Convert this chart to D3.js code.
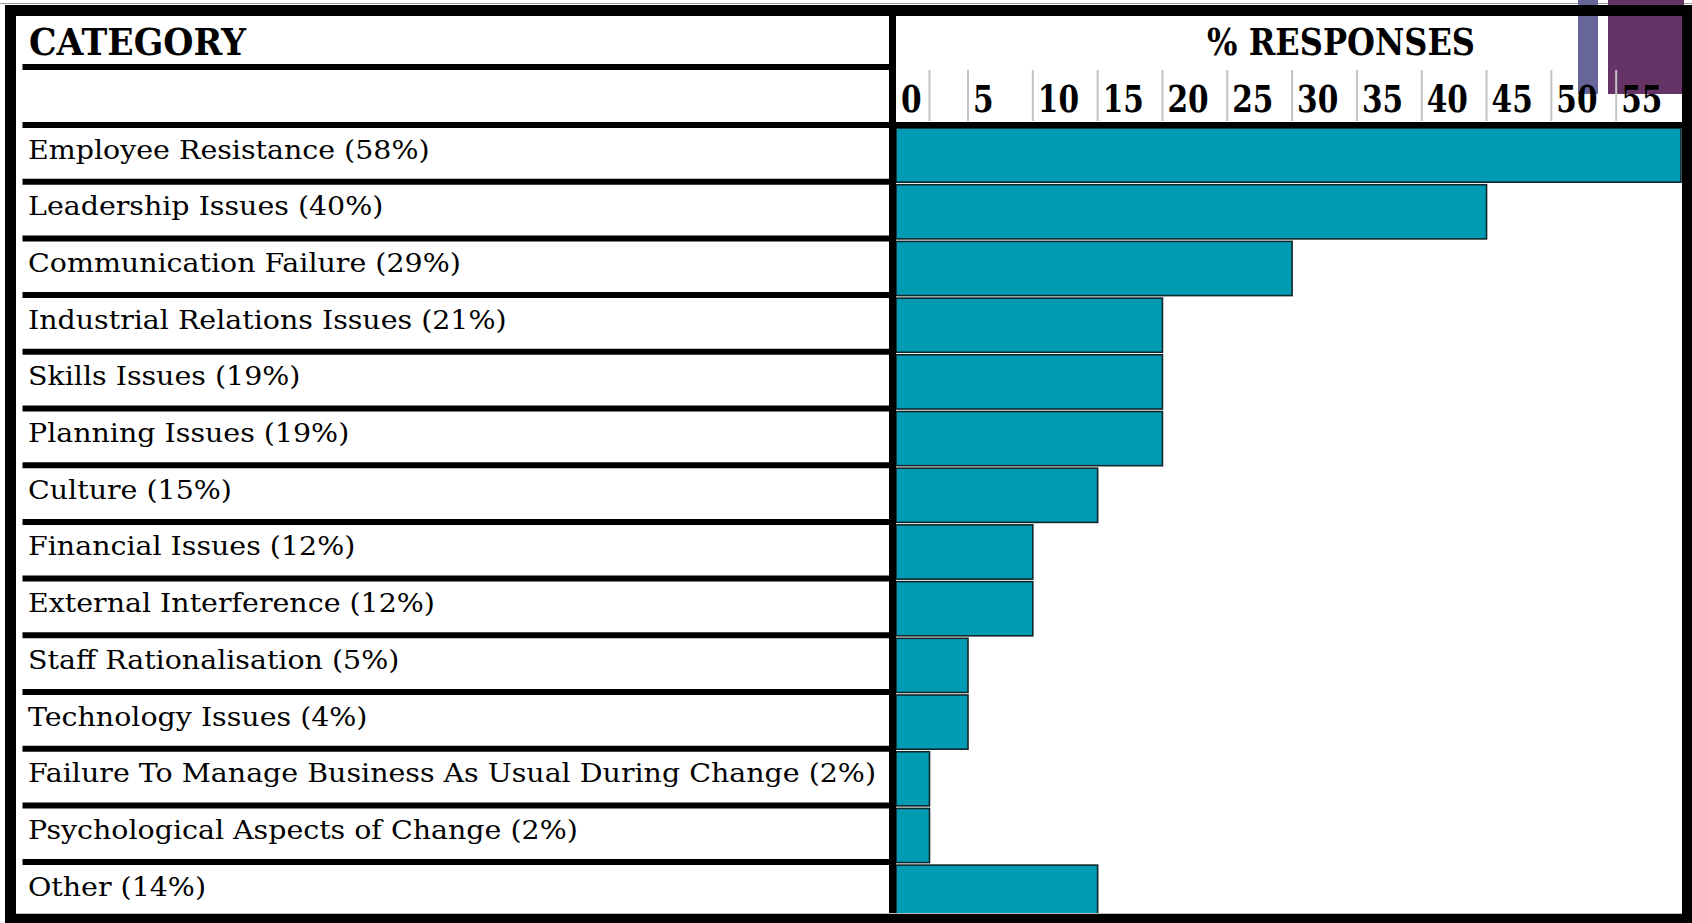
<!DOCTYPE html>
<html>
<head>
<meta charset="utf-8">
<script src="https://cdn.jsdelivr.net/npm/d3@7/dist/d3.min.js"></script>
<style>
  html, body { margin: 0; padding: 0; background: #ffffff; }
  svg { display: block; }
</style>
</head>
<body>
<svg id="chart" width="1692" height="923"></svg>
<script>
// ---------------- data ----------------
const categories = [
  "Employee Resistance",
  "Leadership Issues",
  "Communication Failure",
  "Industrial Relations Issues",
  "Skills Issues",
  "Planning Issues",
  "Culture",
  "Financial Issues",
  "External Interference",
  "Staff Rationalisation",
  "Technology Issues",
  "Failure To Manage Business As Usual During Change",
  "Psychological Aspects of Change",
  "Other"
];
// percentages printed in the category labels
const percentages = [58, 40, 29, 21, 19, 19, 15, 12, 12, 5, 4, 2, 2, 14];
// bar lengths as drawn on the % RESPONSES axis
const barValues = [60, 45, 30, 20, 20, 20, 15, 10, 10, 5, 5, 2.5, 2.5, 15];
// axis labels and grid separators
const tickValues = [0, 5, 10, 15, 20, 25, 30, 35, 40, 45, 50, 55];
const gridValues = [2.5, 5, 10, 15, 20, 25, 30, 35, 40, 45, 50, 55];
const headerLeft = "CATEGORY";
const headerRight = "% RESPONSES";

// ---------------- layout ----------------
const W = 1692, H = 923;
const svg = d3.select("#chart");
const serif = "'DejaVu Serif', 'Liberation Serif', serif";

const frameOuter = 5, frameW = 11;
const dividerX = 892.5, dividerW = 7;
const plotLeft = 896, plotRight = 1681;
const firstLineY = 125, rowH = 56.7;
const lineW = 6;
const leftLineX0 = 22.5;

// polylinear scale matching the reference's cell grid
const x = d3.scaleLinear()
  .domain([0, 2.5, 5, 60])
  .range([plotLeft, 929.5, 968, plotRight]);

const y = d3.scaleBand()
  .domain(d3.range(categories.length))
  .range([firstLineY, firstLineY + rowH * categories.length])
  .padding(0);

// background
svg.append("rect").attr("width", W).attr("height", H).attr("fill", "#ffffff");
svg.append("line").attr("x1", 0).attr("x2", W).attr("y1", 3.5).attr("y2", 3.5)
  .attr("stroke", "#9a9a9a").attr("stroke-width", 1);

// decorative theme blocks (top right)
svg.append("rect").attr("x", 1578).attr("y", 0).attr("width", 20).attr("height", 94).attr("fill", "#666699");
svg.append("rect").attr("x", 1608).attr("y", 0).attr("width", 76).attr("height", 94).attr("fill", "#663366");

// bars
svg.append("g").selectAll("rect")
  .data(barValues)
  .join("rect")
  .attr("x", x(0))
  .attr("y", (d, i) => y(i) + 3)
  .attr("width", d => x(d) - x(0))
  .attr("height", y.bandwidth() - 2.5)
  .attr("fill", "#019bb3")
  .attr("stroke", "#10262a")
  .attr("stroke-width", 1.6);

// grid separators in the tick row
svg.append("g").selectAll("line")
  .data(gridValues)
  .join("line")
  .attr("x1", d => x(d)).attr("x2", d => x(d))
  .attr("y1", 70).attr("y2", 121)
  .attr("stroke", "#c4c4c4")
  .attr("stroke-width", 2);

// tick labels (slightly condensed to mimic the slab face)
const tickText = svg.append("g").selectAll("text")
  .data(tickValues)
  .join("text")
  .attr("x", d => x(d) + 5)
  .attr("y", 112)
  .attr("font-family", serif)
  .attr("font-weight", "bold")
  .attr("font-size", 37)
  .attr("fill", "#000")
  .text(d => d);
tickText.each(function () {
  const w = this.getComputedTextLength();
  d3.select(this).attr("textLength", w * 0.8).attr("lengthAdjust", "spacingAndGlyphs");
});

// headers
svg.append("text")
  .attr("x", 29).attr("y", 55)
  .attr("font-family", serif).attr("font-weight", "bold").attr("font-size", 37)
  .attr("textLength", 217).attr("lengthAdjust", "spacingAndGlyphs")
  .text(headerLeft);
svg.append("text")
  .attr("x", 1207).attr("y", 55)
  .attr("font-family", serif).attr("font-weight", "bold").attr("font-size", 37)
  .attr("textLength", 268).attr("lengthAdjust", "spacingAndGlyphs")
  .text(headerRight);

// category labels
const labels = categories.map((c, i) => `${c} (${percentages[i]}%)`);
const labelText = svg.append("g").selectAll("text")
  .data(labels)
  .join("text")
  .attr("x", 28)
  .attr("y", (d, i) => y(i) + 33.5)
  .attr("font-family", serif)
  .attr("font-size", 26)
  .attr("fill", "#000")
  .text(d => d);
// condense all labels by a common factor so the longest fits its reference width
const longest = d3.max(labelText.nodes(), n => n.getComputedTextLength());
const squeeze = 848 / longest;
labelText.each(function () {
  const w = this.getComputedTextLength();
  d3.select(this).attr("textLength", w * squeeze).attr("lengthAdjust", "spacingAndGlyphs");
});

// left-column row lines
svg.append("g").selectAll("line")
  .data(d3.range(categories.length).slice(1))
  .join("line")
  .attr("x1", leftLineX0).attr("x2", dividerX)
  .attr("y1", i => y(i)).attr("y2", i => y(i))
  .attr("stroke", "#000").attr("stroke-width", lineW);
// header lines
svg.append("line").attr("x1", leftLineX0).attr("x2", dividerX).attr("y1", 67).attr("y2", 67)
  .attr("stroke", "#000").attr("stroke-width", lineW);
svg.append("line").attr("x1", leftLineX0).attr("x2", plotRight + 3).attr("y1", firstLineY).attr("y2", firstLineY)
  .attr("stroke", "#000").attr("stroke-width", lineW);

// vertical divider
svg.append("line").attr("x1", dividerX).attr("x2", dividerX).attr("y1", 10).attr("y2", 918)
  .attr("stroke", "#000").attr("stroke-width", dividerW);

// faint inner bottom line
svg.append("line").attr("x1", 16).attr("x2", 1683).attr("y1", 913.5).attr("y2", 913.5)
  .attr("stroke", "#bdbdbd").attr("stroke-width", 1);

// outer frame
svg.append("rect")
  .attr("x", frameOuter + frameW / 2).attr("y", frameOuter + frameW / 2)
  .attr("width", 1687.5 - (frameOuter + frameW / 2))
  .attr("height", 919.5 - (frameOuter + frameW / 2))
  .attr("fill", "none").attr("stroke", "#000").attr("stroke-width", frameW);
</script>
</body>
</html>
